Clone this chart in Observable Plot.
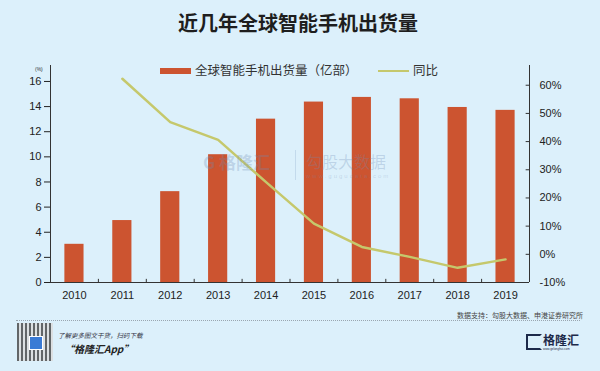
<!DOCTYPE html>
<html><head><meta charset="utf-8">
<script src="https://cdn.jsdelivr.net/npm/d3@7"></script>
<script src="https://cdn.jsdelivr.net/npm/@observablehq/plot@0.6"></script>
<style>
body{margin:0;}
#root{position:relative;width:600px;height:371px;background:#dcf0fb;overflow:hidden;font-family:"Noto Sans CJK SC",sans-serif;}
.abs{position:absolute;white-space:nowrap;line-height:1;}
#chart{position:absolute;left:0;top:0;}
</style></head><body>
<div id="root">
  <div class="abs" style="left:0;width:596px;top:13px;text-align:center;font-size:20px;font-weight:700;color:#1e1e1e;">近几年全球智能手机出货量</div>
  <div class="abs" style="left:160px;top:68px;width:31px;height:6px;background:#cc5430;"></div>
  <div class="abs" style="left:195px;top:64px;font-size:12.5px;color:#333;">全球智能手机出货量（亿部）</div>
  <div class="abs" style="left:378px;top:70px;width:31px;height:2px;background:#c5c86c;"></div>
  <div class="abs" style="left:413px;top:64px;font-size:12.5px;color:#333;">同比</div>
  <div class="abs" style="left:35px;top:67px;font-size:5px;color:#333;font-family:'Liberation Sans',sans-serif;">(%)</div>
  <div id="chart"></div>
  <div class="abs" style="left:203px;top:153px;font-size:17px;font-weight:700;color:rgba(110,140,180,0.28);">G 格隆汇</div>
  <div class="abs" style="left:295px;top:150px;width:1px;height:30px;background:rgba(110,140,180,0.22);"></div>
  <div class="abs" style="left:306px;top:153px;font-size:16px;color:rgba(110,140,180,0.28);">勾股大数据</div>
  <div class="abs" style="left:306px;top:173px;font-size:6px;letter-spacing:2px;color:rgba(110,140,180,0.28);font-family:'Liberation Sans',sans-serif;">www.gugudata.com</div>
  <div class="abs" style="left:457px;top:312px;font-size:7px;color:#444;">数据支持：勾股大数据、申港证券研究所</div>
  <div class="abs" style="left:16px;top:320px;width:564px;height:0;border-top:1px dotted #9aa6b0;"></div>
  <div class="abs" style="left:17px;top:323px;width:36px;height:38px;background:repeating-linear-gradient(90deg,#444 0 2px,#ddd 2px 4px),#888;opacity:0.8;"></div>
  <div class="abs" style="left:29px;top:336px;width:12px;height:12px;background:#3a7bd5;border:1px solid #fff;"></div>
  <div class="abs" style="left:58px;top:332px;font-size:6.5px;font-style:italic;color:#334;">了解更多图文干货，扫码下载</div>
  <div class="abs" style="left:64px;top:344px;font-size:10px;font-weight:700;font-style:italic;color:#222;">“格隆汇App”</div>
  <div class="abs" style="left:526px;top:334px;width:12px;height:12px;border:2px solid #1d2a4a;border-right-color:transparent;background:transparent;"></div>
  <div class="abs" style="left:543px;top:334px;font-size:12px;font-weight:700;color:#1d2a4a;">格隆汇</div>
  <div class="abs" style="left:543px;top:348px;font-size:3px;color:#1d2a4a;font-family:'Liberation Sans',sans-serif;">www.gelonghui.com</div>
</div>
<script>
const years = [2010, 2011, 2012, 2013, 2014, 2015, 2016, 2017, 2018, 2019];
const shipments = [3.04, 4.93, 7.23, 10.17, 13.0, 14.36, 14.73, 14.62, 13.93, 13.7];
const yoyYears = [2011, 2012, 2013, 2014, 2015, 2016, 2017, 2018, 2019];
const yoy = [62.3, 46.9, 40.6, 25.6, 10.9, 2.6, -0.9, -4.8, -1.8];
const leftTicks = [0, 2, 4, 6, 8, 10, 12, 14, 16];
const rightTicks = [-10, 0, 10, 20, 30, 40, 50, 60];
const leftDomain = [0, 17.27];
const rightDomain = [-10, 67];

const k = (leftDomain[1] - leftDomain[0]) / (rightDomain[1] - rightDomain[0]);
const toLeft = p => leftDomain[0] + (p - rightDomain[0]) * k;
const fromLeft = v => (v - leftDomain[0]) / k + rightDomain[0];
const barData = years.map((year, i) => ({year, value: shipments[i]}));
const lineData = yoyYears.map((year, i) => ({year, pct: yoy[i]}));
const xDomain = [years[0] - 0.5, years[years.length - 1] + 0.5];
const boundaries = years.map(y => y - 0.5).concat([xDomain[1]]);
const halfBar = 0.2;

const chart = Plot.plot({
  width: 600,
  height: 312,
  marginTop: 65,
  marginBottom: 30,
  marginLeft: 50,
  marginRight: 71,
  style: {background: "transparent", fontFamily: "'Liberation Sans', Arial, sans-serif", fontSize: "11px", color: "#222"},
  x: {domain: xDomain, axis: null},
  y: {domain: leftDomain, axis: null},
  marks: [
    Plot.rectY(barData, {x1: d => d.year - halfBar, x2: d => d.year + halfBar, y: "value", fill: "#cc5430"}),
    Plot.line(lineData, {x: "year", y: d => toLeft(d.pct), stroke: "#c5c86c", strokeWidth: 2.5, strokeLinejoin: "round", curve: "linear"}),
    Plot.ruleX([xDomain[0], xDomain[1]], {stroke: "#333", strokeWidth: 1}),
    Plot.ruleY([leftDomain[0]], {stroke: "#333", strokeWidth: 1}),
    Plot.ruleX(boundaries, {y1: leftDomain[0], y2: leftDomain[0] + 0.25, stroke: "#333"}),
    Plot.ruleY(rightTicks, {y: toLeft, x1: xDomain[1] - 0.07, x2: xDomain[1], stroke: "#333"}),
    Plot.axisY({anchor: "left", ticks: leftTicks, tickSize: 6, tickPadding: 3, label: null, fontSize: 11}),
    Plot.axisY({anchor: "right", ticks: rightTicks.map(toLeft), tickFormat: v => Math.round(fromLeft(v)) + "%", tickSize: 0, tickPadding: 10, label: null, fontSize: 11}),
    Plot.axisX({ticks: years, tickSize: 0, tickPadding: 9, tickFormat: d => String(d), label: null, fontSize: 11})
  ]
});
document.getElementById("chart").appendChild(chart);
</script>
</body></html>
